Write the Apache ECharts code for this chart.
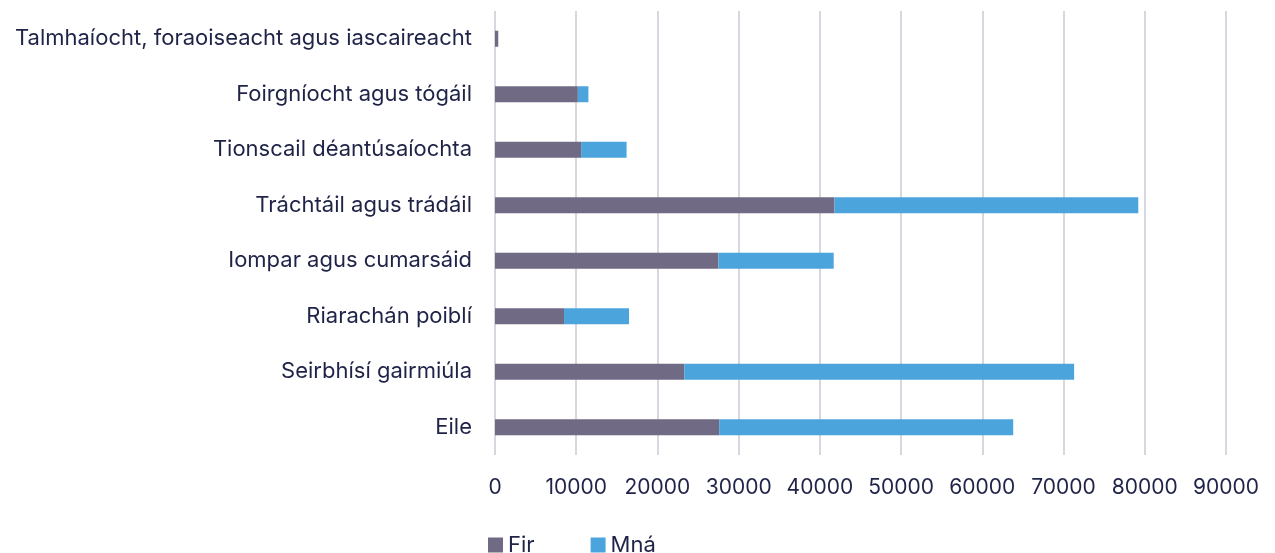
<!DOCTYPE html>
<html>
<head>
<meta charset="utf-8">
<script src="https://cdn.jsdelivr.net/npm/echarts@6/dist/echarts.min.js"></script>
<style>
  html, body { margin: 0; padding: 0; background: #ffffff; }
  #chart { width: 1275px; height: 553px; }
</style>
</head>
<body>
<div id="chart"></div>
<script>
const categories = [
  "Talmhaíocht, foraoiseacht agus iascaireacht",
  "Foirgníocht agus tógáil",
  "Tionscail déantúsaíochta",
  "Tráchtáil agus trádáil",
  "Iompar agus cumarsáid",
  "Riarachán poiblí",
  "Seirbhísí gairmiúla",
  "Eile"
];
const seriesNames = ["Fir", "Mná"];
const firValues = [400, 10200, 10600, 41800, 27500, 8500, 23300, 27600];
const mnaValues = [0, 1300, 5600, 37400, 14200, 8000, 48000, 36200];
const xMin = 0, xMax = 90000, xStep = 10000;

const textColor = "#1f2347";
const fontFamily = "Inter, 'Noto Sans', sans-serif";

const chart = echarts.init(document.getElementById('chart'), null, { renderer: 'canvas' });
chart.setOption({
  animation: false,
  backgroundColor: '#ffffff',
  textStyle: { fontFamily: fontFamily },
  grid: { left: 495, right: 49, top: 11, bottom: 98, containLabel: false },
  legend: {
    left: 488,
    top: 534,
    padding: 0,
    itemWidth: 15,
    itemHeight: 15,
    itemGap: 56,
    icon: 'rect',
    data: seriesNames,
    textStyle: { color: textColor, fontSize: 22, fontFamily: fontFamily }
  },
  xAxis: {
    type: 'value',
    min: xMin,
    max: xMax,
    interval: xStep,
    axisLine: { show: false },
    axisTick: { show: false },
    axisLabel: {
      color: textColor, fontSize: 21, margin: 22, fontFamily: fontFamily,
      formatter: function (v) { return String(v); }
    },
    splitLine: { show: true, lineStyle: { color: '#cbc9d4', width: 1.5 } }
  },
  yAxis: {
    type: 'category',
    data: categories,
    inverse: true,
    axisLine: { show: false },
    axisTick: { show: false },
    axisLabel: { color: textColor, fontSize: 22, margin: 23, fontFamily: fontFamily }
  },
  series: [
    {
      name: seriesNames[0],
      type: 'bar',
      stack: 'total',
      barWidth: 16,
      itemStyle: { color: '#716a84' },
      data: firValues
    },
    {
      name: seriesNames[1],
      type: 'bar',
      stack: 'total',
      barWidth: 16,
      itemStyle: { color: '#4ba5dc' },
      data: mnaValues
    }
  ]
});
</script>
</body>
</html>
